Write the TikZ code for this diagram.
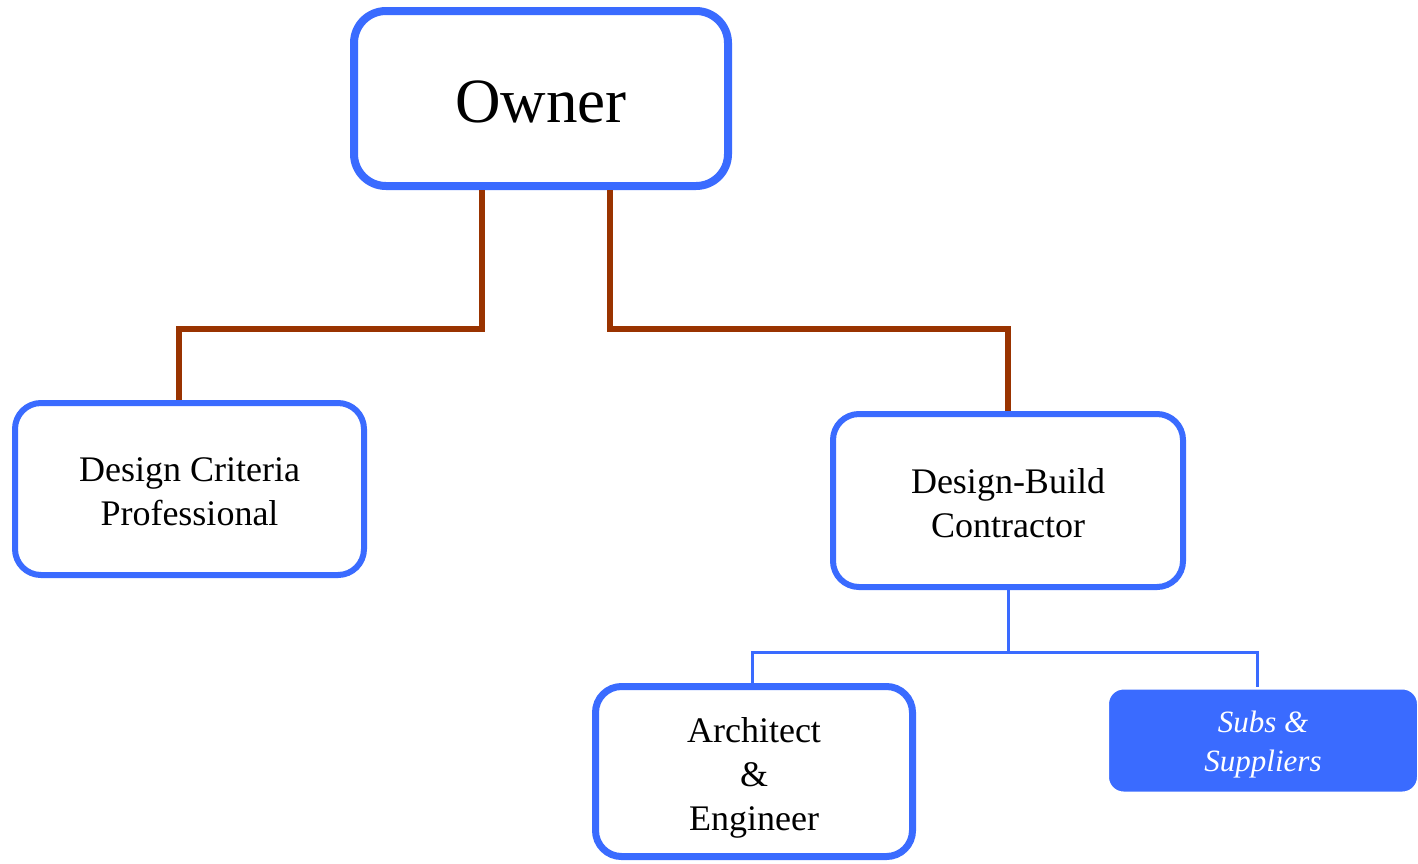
\documentclass[tikz,border=0pt]{standalone}
\usepackage{fontspec}
\setmainfont{Liberation Serif}
\definecolor{boxblue}{RGB}{58,107,255}
\definecolor{linkbrown}{RGB}{153,51,0}
\begin{document}
\begin{tikzpicture}[x=1pt,y=-1pt,
  box/.style={draw=boxblue, fill=white, rounded corners=26pt, line width=6pt, inner sep=0pt},
  boxtext/.style={align=center, inner sep=0pt, font=\fontsize{36}{44}\selectfont},
  brownlink/.style={draw=linkbrown, line width=5.5pt},
  bluelink/.style={draw=boxblue, line width=3pt},
  subsbox/.style={draw=white, line width=3pt, fill=boxblue, rounded corners=16pt, inner sep=0pt},
  substext/.style={align=center, inner sep=0pt, text=white, font=\fontsize{31}{39}\selectfont\itshape}]
\useasboundingbox[fill=white] (0,0) rectangle (1418,863);
% boxes
\node[box, line width=8pt, rounded corners=32pt, minimum width=374pt, minimum height=175pt] (owner) at (541,98.5) {};
\node[box, minimum width=349pt, minimum height=172pt] (dcp) at (189.5,489) {};
\node[box, minimum width=350pt, minimum height=173pt] (dbc) at (1008,500.5) {};
\node[box, line width=7pt, minimum width=317pt, minimum height=170pt] (arch) at (754,771.5) {};
\node[subsbox, minimum width=311pt, minimum height=105pt] (subs) at (1263,740.5) {};
% texts
\node[boxtext, font=\fontsize{63}{70}\selectfont] (ownerT) at ([yshift=-3pt]owner.center) {Owner};
\node[boxtext] (dcpT) at ([yshift=-3pt]dcp.center) {Design Criteria\\Professional};
\node[boxtext] (dbcT) at ([yshift=-3pt]dbc.center) {Design-Build\\Contractor};
\node[boxtext] (archT) at ([yshift=-6pt]arch.center) {Architect\\\&\\Engineer};
\node[substext] (subsT) at ([yshift=-4pt]subs.center) {Subs \&\\Suppliers};
% junction coordinates
\coordinate (jl) at (482,329);
\coordinate (jr) at (610,329);
\coordinate (xl) at (179,0);
\coordinate (xr) at (1008,0);
\coordinate (hb) at (0,652);
\coordinate (xa) at (752,0);
\coordinate (xs) at (1257,0);
% connectors
\draw[brownlink] (owner.south -| jl) -- (jl) -| (dcp.north -| xl);
\draw[brownlink] (owner.south -| jr) -- (jr) -| (dbc.north -| xr);
\draw[bluelink] (dbc.south) -- (dbc.south |- hb);
\draw[bluelink] (arch.north -| xa) -- (xa |- hb) -- (xs |- hb) -- (subs.north -| xs);
\end{tikzpicture}
\end{document}
